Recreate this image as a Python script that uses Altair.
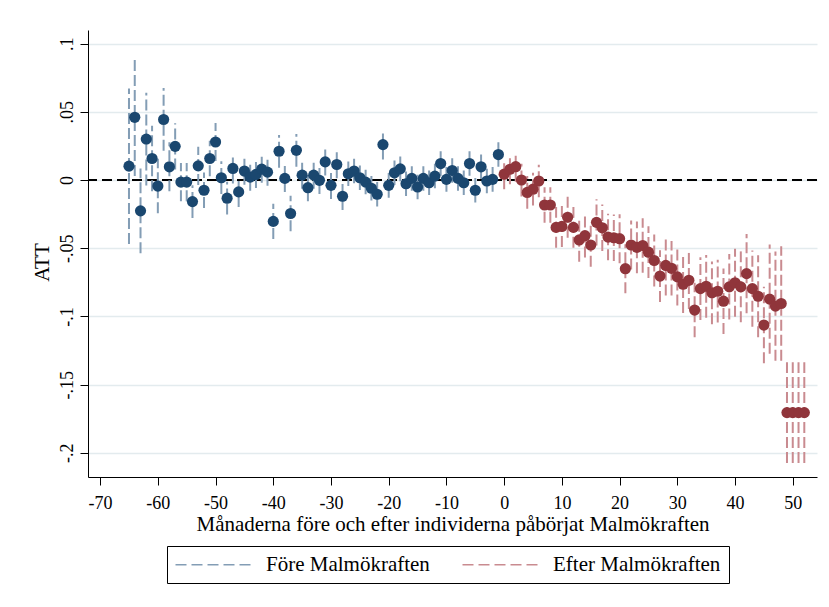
import altair as alt
import pandas as pd

# ---- data ----
pre_months = list(range(-65, 0))
pre_att = [0.0102, 0.046, -0.0226, 0.030, 0.0158, -0.0044, 0.0444, 0.0097, 0.0247, -0.0015,
           -0.0015, -0.0158, 0.0104, -0.0075, 0.0158, 0.0279, 0.0017, -0.0133, 0.0085, -0.0087,
           0.0066, 0.0022, 0.0041, 0.008, 0.0058, -0.0303, 0.0211, 0.0012, -0.0245, 0.0218,
           0.0036, -0.0056, 0.0036, -0.0002, 0.0133, -0.0039, 0.0114, -0.0119, 0.0046, 0.0066,
           0.0017, -0.0015, -0.006, -0.0104, 0.026, -0.0039, 0.0053, 0.0082, -0.0027, 0.0012,
           -0.0051, 0.0012, -0.002, 0.0029, 0.0121, 0.0005, 0.007, 0.0012, -0.002, 0.0121,
           -0.0075, 0.0097, -0.0007, 0.0005, 0.0187]
pre_ci = [0.057, 0.043, 0.031, 0.034, 0.024, 0.020, 0.023, 0.018, 0.017, 0.014,
          0.014, 0.012, 0.014, 0.013, 0.013, 0.014, 0.012, 0.012, 0.011, 0.011,
          0.010, 0.010, 0.010, 0.010, 0.010, 0.013, 0.012, 0.010, 0.013, 0.012,
          0.010, 0.010, 0.010, 0.010, 0.010, 0.010, 0.010, 0.010, 0.009, 0.009,
          0.009, 0.009, 0.009, 0.009, 0.011, 0.009, 0.009, 0.009, 0.009, 0.009,
          0.009, 0.009, 0.009, 0.009, 0.009, 0.009, 0.009, 0.009, 0.009, 0.009,
          0.009, 0.009, 0.009, 0.009, 0.009]

post_months = list(range(0, 53))
post_att = [0.0043, 0.0079, 0.0098, 0.0, -0.0091, -0.0067, -0.0007, -0.0183, -0.0183, -0.0347,
            -0.034, -0.0273, -0.0347, -0.0439, -0.0408, -0.0476, -0.031, -0.035, -0.0418, -0.0423,
            -0.043, -0.065, -0.0476, -0.0493, -0.048, -0.0529, -0.059, -0.0704, -0.0626, -0.0647,
            -0.071, -0.0764, -0.0735, -0.0953, -0.0796, -0.0779, -0.0827, -0.0815, -0.0888, -0.0783,
            -0.0753, -0.0783, -0.0686, -0.0796, -0.0852, -0.1063, -0.0873, -0.0924, -0.0905, -0.1705,
            -0.1705, -0.1705, -0.1705]
post_ci = [0.011, 0.011, 0.011, 0.012, 0.012, 0.012, 0.012, 0.013, 0.013, 0.015,
           0.015, 0.015, 0.015, 0.016, 0.016, 0.016, 0.017, 0.017, 0.017, 0.017,
           0.018, 0.018, 0.018, 0.019, 0.020, 0.019, 0.019, 0.019, 0.022, 0.020,
           0.021, 0.021, 0.021, 0.020, 0.023, 0.023, 0.023, 0.023, 0.024, 0.024,
           0.025, 0.026, 0.029, 0.028, 0.030, 0.028, 0.040, 0.040, 0.042, 0.037,
           0.037, 0.037, 0.037]

groups = ["Före Malmökraften", "Efter Malmökraften"]
y_ticks = [0.1, 0.05, 0, -0.05, -0.1, -0.15, -0.2]
x_ticks = list(range(-70, 60, 10))

rows = []
for m, v, c in zip(pre_months, pre_att, pre_ci):
    rows.append({"month": m, "att": v, "lo": v - c, "hi": v + c, "group": groups[0]})
for m, v, c in zip(post_months, post_att, post_ci):
    rows.append({"month": m, "att": v, "lo": v - c, "hi": v + c, "group": groups[1]})
df = pd.DataFrame(rows)

FONT = "Liberation Serif"

x_scale = alt.Scale(domain=[-72.1, 54.2], nice=False, zero=False)
y_scale = alt.Scale(domain=[-0.2177, 0.11], nice=False, zero=False)

x_axis = alt.Axis(
    values=x_ticks, title="Månaderna före och efter individerna påbörjat Malmökraften",
    labelExpr="toString(datum.value)",
    grid=False, tickSize=8, labelPadding=9, labelFlush=False, labelOverlap=False,
    labelFontSize=18, titleFontSize=21, titleY=53, titleBaseline="alphabetic",
)
y_axis = alt.Axis(
    values=y_ticks, title="ATT",
    labelExpr="replace(toString(datum.value), '0.', '.')",
    grid=True, tickSize=8, labelAngle=-90, labelAlign="center", labelBaseline="alphabetic",
    labelPadding=8, labelFlush=False, labelOverlap=False, labelFontSize=18,
    titleFontSize=21, titleAngle=-90, titleX=-40, titleY=232, titleAlign="center",
    titleBaseline="alphabetic",
)

base = alt.Chart(df)

zero = alt.Chart(df).mark_rule(color="black", strokeDash=[10, 5], strokeWidth=2).encode(
    y=alt.datum(0, scale=y_scale, axis=y_axis)
)

bars = base.mark_rule(strokeWidth=2, strokeDash=[11, 4]).encode(
    x=alt.X("month:Q", scale=x_scale, axis=x_axis),
    y=alt.Y("lo:Q", scale=y_scale, axis=y_axis),
    y2="hi:Q",
    color=alt.Color("group:N", scale=alt.Scale(domain=groups, range=["#839db5", "#c98b90"]),
                    legend=alt.Legend(title=None)),
)

points = base.mark_circle(size=125, opacity=1).encode(
    x=alt.X("month:Q", scale=x_scale, axis=x_axis),
    y=alt.Y("att:Q", scale=y_scale, axis=y_axis),
    color=alt.Color("group:N", scale=alt.Scale(domain=groups, range=["#1a476f", "#90353b"]),
                    legend=None),
)

chart = alt.layer(zero, bars, points).resolve_scale(color="independent").properties(
    width=729, height=447,
    padding={"left": 88, "top": 30, "right": 12, "bottom": 130},
    autosize=alt.AutoSizeParams(type="none"),
    background="white",
).configure_view(stroke=None).configure_axis(
    labelFont=FONT, titleFont=FONT, labelColor="black", titleColor="black",
    domainColor="black", tickColor="black", domainWidth=1, tickWidth=1,
    gridColor="#e3ebee", gridWidth=1.5, titleFontWeight="normal",
).configure_legend(
    orient="none", legendX=79, legendY=516, direction="horizontal",
    symbolType="M-2,0H14", symbolSize=100, symbolStrokeWidth=1.5, symbolDash=[11, 5],
    labelFont=FONT, labelFontSize=21, labelColor="black", labelOffset=70,
    columnPadding=29, padding=8, strokeColor="black", labelLimit=400,
)

chart.save("out.html", embed_options={"renderer": "svg", "actions": False})
